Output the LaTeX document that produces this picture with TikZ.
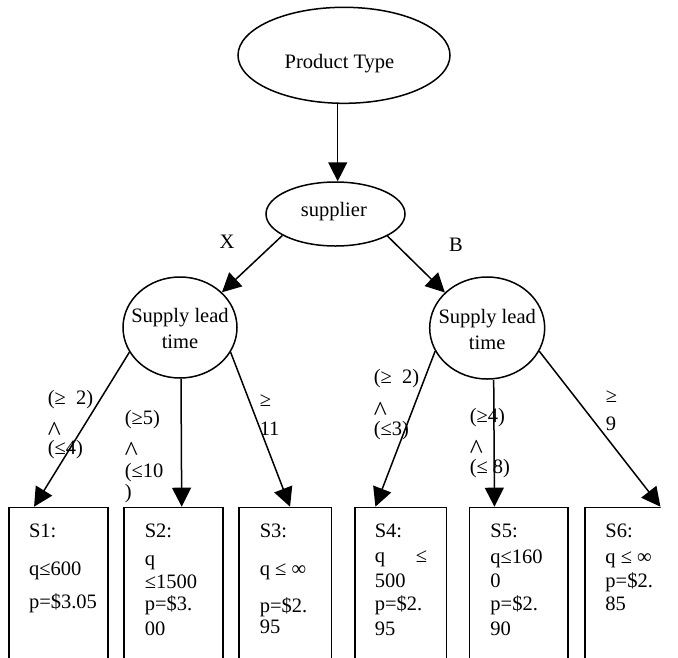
\documentclass[tikz,border=0pt]{standalone}
\usepackage{fontspec}
\usepackage{graphicx}
\setmainfont{Liberation Serif}
\usetikzlibrary{shapes.geometric,arrows.meta}
\newcommand{\wedgecaret}{\raisebox{-2pt}{\scalebox{1.35}{\textasciicircum}}}
\begin{document}
\begin{tikzpicture}[x=1pt,y=-1pt,
  font=\fontsize{20.5}{23}\selectfont, line width=1.5pt,
  ell/.style={draw, ellipse, inner sep=0pt},
  box/.style={draw, rectangle, inner sep=0pt, anchor=north west, minimum height=200pt},
  arr/.style={-{Triangle[length=19pt,width=19pt]}, line join=miter},
  lab/.style={anchor=base west, inner sep=0pt, align=left}]
\clip (0,0) rectangle (678,657);
% ellipses
\node[ell, minimum width=212pt, minimum height=96pt,
  label={[xshift=-4.5pt,yshift=-8pt]center:Product Type}] (pt) at (344,55.3) {};
\node[ell, minimum width=139pt, minimum height=64pt,
  label={[xshift=-1.7pt,yshift=2pt]center:supplier}] (sup) at (335.5,214) {};
\node[ell, minimum width=114pt, minimum height=101pt,
  label={[align=center,yshift=-1pt]center:Supply lead\\[3pt]time}] (lc) at (180,327.5) {};
\node[ell, minimum width=115pt, minimum height=102pt,
  label={[align=center,yshift=-1pt]center:Supply lead\\[3pt]time}] (rc) at (487.2,328) {};
% branch labels
\node (lx) at (227,241.5) {X};
\node (lb) at (456,244.5) {B};
% boxes
\node[box, minimum width=99pt] (s1) at (8.3,506.7) {};
\node[box, minimum width=98.7pt] (s2) at (123.3,506.7) {};
\node[box, minimum width=92.4pt] (s3) at (238.3,506.7) {};
\node[box, minimum width=91.7pt] (s4) at (354,506.7) {};
\node[box, minimum width=98.6pt] (s5) at (468.7,506.7) {};
\begin{scope}
\clip (0,0) rectangle (660.5,657);
\node[box, minimum width=100pt] (s6) at (584,506.7) {};
\end{scope}
% box texts (anchored at the baseline of the last line)
\node[lab] (t1) at (28.3,608) {S1:\\[15pt]q≤600\\[10pt]p=\$3.05};
\node[lab] (t2) at (144,635) {S2:\\[5pt]q\\≤1500\\[-1pt]p=\$3.\\[2pt]00};
\node[lab] (t3) at (259,633) {S3:\\[15pt]q ≤ ∞\\[14.7pt]p=\$2.\\[-2.7pt]95};
\node[lab] (t4) at (374,635) {S4:\\[2pt]q\hspace{31pt}≤\\[2pt]500\\p=\$2.\\[2pt]95};
\node[lab] (t5) at (489.7,635) {S5:\\[3pt]q≤160\\[1pt]0\\p=\$2.\\[2pt]90};
\node[lab] (t6) at (604.7,610) {S6:\\[3pt]q ≤ ∞\\[1pt]p=\$2.\\85};
% edge labels (anchored at the baseline of the last line)
\node[lab] (l1) at (47,454) {(≥\ \ 2)\\[11pt]\wedgecaret\\[-7pt](≤4)};
\node[lab] (l2) at (124,498.5) {(≥5)\\[11pt]\wedgecaret\\[-4pt](≤10\\[-1.5pt])};
\node[lab] (l3) at (259,435) {≥\\[6pt]11};
\node[lab] (l4) at (373,435) {(≥\ \ 2)\\[12pt]\wedgecaret\\[-6pt](≤3)};
\node[lab] (l5) at (469,473) {(≥4)\\[10.5pt]\wedgecaret\\[-6pt](≤ 8)};
\node[lab] (l6) at (605,430) {≥\\[5pt]9};
% arrows
\draw[arr] ([xshift=-6.3pt]pt.south) -- ([xshift=2.2pt]sup.north);
\draw[arr] (sup.202) -- (lc.40);
\draw[arr] (sup.337) -- (rc.140);
\draw[arr] (lc.206) -- ([xshift=-24.5pt]s1.north);
\draw[arr] ([xshift=1pt]lc.south) -- ([xshift=8.3pt]s2.north);
\draw[arr] (lc.334) -- ([xshift=4.8pt]s3.north);
\draw[arr] (rc.204) -- ([xshift=-25.2pt]s4.north);
\draw[arr] ([xshift=6.5pt]rc.south) -- ([xshift=-24.3pt]s5.north);
\draw[arr] (rc.336) -- ([xshift=25.7pt]s6.north);
\end{tikzpicture}
\end{document}
